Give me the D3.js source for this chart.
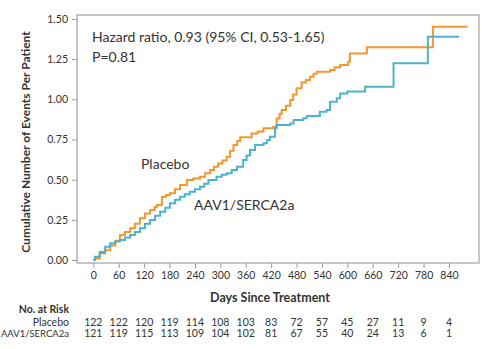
<!DOCTYPE html>
<html><head><meta charset="utf-8">
<script src="https://cdn.jsdelivr.net/npm/d3@7"></script>
<style>body{margin:0;background:#fff}svg{display:block}text{font-family:Lato,"Open Sans",sans-serif;fill:#333}</style>
</head><body><svg id="c" width="482" height="349"></svg>
<script>
const xTicks = [0,60,120,180,240,300,360,420,480,540,600,660,720,780,840];
const yTicks = [0,0.25,0.5,0.75,1.0,1.25,1.5];
const placebo = [[0,0],[4,0.01],[15,0.04],[28,0.06],[40,0.09],[52,0.12],[63,0.156],[75,0.175],[87,0.197],[98,0.225],[110,0.26],[122,0.29],[134,0.311],[145,0.33],[150,0.342],[162,0.394],[172,0.405],[181,0.415],[193,0.44],[205,0.467],[221,0.498],[236,0.508],[252,0.518],[264,0.54],[276,0.56],[285,0.58],[295,0.60],[305,0.62],[315,0.643],[323,0.68],[331,0.716],[340,0.74],[347,0.764],[374,0.788],[388,0.80],[402,0.82],[425,0.83],[433,0.88],[440,0.91],[445,0.934],[455,0.96],[465,0.996],[472,1.03],[480,1.069],[492,1.104],[502,1.12],[512,1.141],[520,1.16],[528,1.172],[559,1.183],[570,1.2],[583,1.214],[602,1.234],[606,1.286],[646,1.324],[802,1.452],[884,1.452]];
const aav = [[0,0],[4,0.02],[15,0.05],[28,0.083],[40,0.104],[52,0.115],[63,0.124],[75,0.14],[87,0.156],[98,0.175],[110,0.197],[122,0.225],[134,0.249],[146,0.275],[158,0.30],[170,0.325],[181,0.353],[193,0.375],[205,0.394],[216,0.41],[228,0.425],[240,0.44],[252,0.456],[262,0.475],[272,0.498],[291,0.518],[303,0.53],[315,0.54],[327,0.56],[339,0.58],[354,0.622],[362,0.65],[370,0.685],[382,0.716],[402,0.726],[410,0.745],[417,0.767],[429,0.82],[433,0.84],[465,0.85],[473,0.871],[496,0.882],[504,0.896],[535,0.923],[551,0.934],[559,0.985],[575,1.006],[583,1.037],[600,1.048],[642,1.079],[709,1.224],[790,1.39],[864,1.39]];
const riskPlacebo = [122,122,120,119,114,108,103,83,72,57,45,27,11,9,4];
const riskAAV = [121,119,115,113,109,104,102,81,67,55,40,24,13,6,1];
const groups = ["Placebo","AAV1/SERCA2a"];
const colors = ["#F5962A","#4DB3CC"];

const svg = d3.select("#c");
const x = d3.scaleLinear().domain([0,840]).range([93.3,449]);
const y = d3.scaleLinear().domain([0,1.5]).range([260,19]);
const L=77,R=479,T=15,B=263;

svg.append("rect").attr("x",L).attr("y",T).attr("width",R-L).attr("height",B-T)
  .attr("fill","none").attr("stroke","#b5b5b5").attr("stroke-width",1.5);

const ya = svg.append("g").attr("transform",`translate(${L},0)`)
  .call(d3.axisLeft(y).tickValues(yTicks).tickFormat(d3.format(".2f")).tickSize(5).tickPadding(4));
ya.select(".domain").remove();
ya.selectAll("line").attr("stroke","#999");
ya.selectAll("text").attr("font-size",10.5).style("fill","#333").style("font-family","Lato,sans-serif");

const xa = svg.append("g").attr("transform",`translate(0,${B})`)
  .call(d3.axisBottom(x).tickValues(xTicks).tickSize(5).tickPadding(4));
xa.select(".domain").remove();
xa.selectAll("line").attr("stroke","#999");
xa.selectAll("text").attr("font-size",10.5).style("fill","#333").style("font-family","Lato,sans-serif");

const line = d3.line().x(d=>x(d[0])).y(d=>y(d[1])).curve(d3.curveStepAfter);
[placebo,aav].forEach((s,i)=>{
  svg.append("path").attr("d",line(s)).attr("fill","none").attr("stroke",colors[i]).attr("stroke-width",2);
});

svg.append("text").attr("x",92).attr("y",42).attr("font-size",14).text("Hazard ratio, 0.93 (95% CI, 0.53-1.65)");
svg.append("text").attr("x",92).attr("y",62).attr("font-size",14).text("P=0.81");
svg.append("text").attr("x",141).attr("y",169).attr("font-size",14).text(groups[0]);
svg.append("text").attr("x",194).attr("y",210).attr("font-size",14).text(groups[1]);

svg.append("text").attr("transform","translate(30,142) rotate(-90)").attr("text-anchor","middle")
  .attr("font-size",12).attr("font-weight","bold").text("Cumulative Number of Events Per Patient");
svg.append("text").attr("x",270).attr("y",302).attr("text-anchor","middle")
  .attr("font-size",12.5).attr("font-weight","bold").text("Days Since Treatment");
svg.append("text").attr("x",69).attr("y",313).attr("text-anchor","end")
  .attr("font-size",10.5).attr("font-weight","bold").text("No. at Risk");
[riskPlacebo,riskAAV].forEach((r,i)=>{
  const yy = 326+i*10.5;
  svg.append("text").attr("x",69).attr("y",yy).attr("text-anchor","end").attr("font-size",i ? 9.5 : 10.5).text(groups[i]);
  svg.selectAll(null).data(r).enter().append("text")
    .attr("x",(d,j)=>x(xTicks[j])).attr("y",yy).attr("text-anchor","middle").attr("font-size",10.5).text(d=>d);
});
</script></body></html>
